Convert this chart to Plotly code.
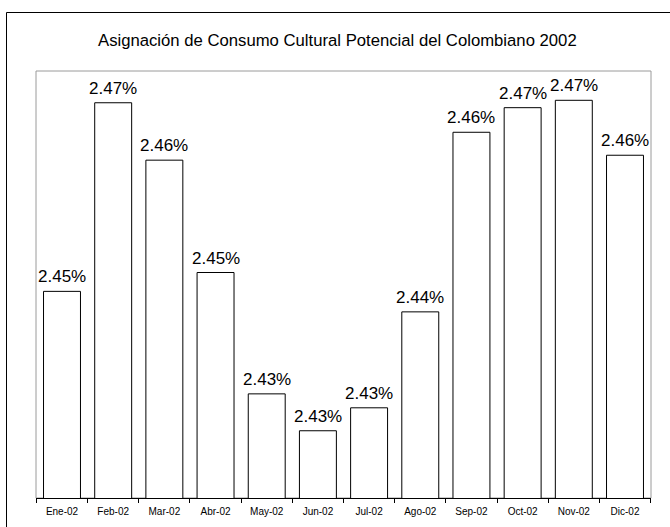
import plotly.graph_objects as go

# Monthly share of potential cultural consumption, 2002 (percent)
months = ["Ene-02", "Feb-02", "Mar-02", "Abr-02", "May-02", "Jun-02",
          "Jul-02", "Ago-02", "Sep-02", "Oct-02", "Nov-02", "Dic-02"]
shares = [2.4452, 2.4682, 2.4612, 2.4475, 2.4327, 2.4282,
          2.4310, 2.4427, 2.4646, 2.4676, 2.4685, 2.4618]

title_text = "Asignación de Consumo Cultural Potencial del Colombiano 2002"
FONT = "Liberation Sans, Arial, sans-serif"

fig = go.Figure(
    go.Bar(
        x=months,
        y=shares,
        marker=dict(color="white", line=dict(color="black", width=1)),
        hoverinfo="skip",
    )
)

# value labels above each bar
for m, v in zip(months, shares):
    fig.add_annotation(
        x=m, y=v, xref="x", yref="y",
        text=f"{v:.2f}%",
        showarrow=False,
        yanchor="bottom",
        yshift=3,
        font=dict(family=FONT, size=17, color="black"),
    )

L, R, T, B = 36, 19, 71, 29
W, H = 670, 527
pw, ph = W - L - R, H - T - B


def px_to_paper_x(px):
    return (px - L) / pw


def px_to_paper_y(py):
    return (H - B - py) / ph


fig.update_layout(
    width=W,
    height=H,
    margin=dict(l=L, r=R, t=T, b=B, pad=0, autoexpand=False),
    paper_bgcolor="white",
    plot_bgcolor="white",
    bargap=0.278,
    showlegend=False,
    font=dict(family=FONT, color="black"),
    title=dict(
        text=title_text,
        font=dict(family=FONT, size=16.7, color="black"),
        x=0.49,
        xref="paper",
        xanchor="center",
        y=1 - 40.5 / H,
        yanchor="middle",
    ),
    xaxis=dict(
        type="category",
        automargin=False,
        showline=True,
        linecolor="black",
        linewidth=1,
        ticks="outside",
        ticklen=4,
        tickcolor="black",
        tickwidth=1,
        tickson="boundaries",
        ticklabelstandoff=4,
        tickfont=dict(family=FONT, size=10, color="black"),
        showgrid=False,
        zeroline=False,
        fixedrange=True,
    ),
    yaxis=dict(
        range=[2.42, 2.42 + ph / 8200],
        visible=False,
        showgrid=False,
        zeroline=False,
        fixedrange=True,
    ),
    shapes=[
        # plot-area frame
        dict(type="rect", xref="paper", yref="paper", x0=0, x1=1, y0=0, y1=1,
             line=dict(color="#9a9a9a", width=1), layer="below"),
        # chart-area frame
        dict(type="rect", xref="paper", yref="paper",
             x0=px_to_paper_x(6.5), x1=px_to_paper_x(690),
             y0=px_to_paper_y(560), y1=px_to_paper_y(12.5),
             line=dict(color="black", width=1), layer="below"),
    ],
)

fig.write_html("out.html")
